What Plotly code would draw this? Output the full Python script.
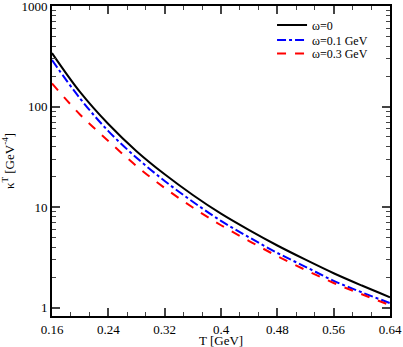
import plotly.graph_objects as go

# temperature grid (GeV)
T = [0.16, 0.20, 0.24, 0.28, 0.32, 0.36, 0.40, 0.44, 0.48, 0.52, 0.56, 0.60, 0.64]

# kappa^T values (GeV^-4)
kappa_w0 = [340, 139, 67, 36, 21.2, 13.2, 8.6, 5.9, 4.15, 3.0, 2.2, 1.66, 1.27]
kappa_w01 = [290, 120, 57, 31, 18.2, 11.3, 7.3, 5.0, 3.5, 2.55, 1.85, 1.42, 1.11]
kappa_w03 = [170, 83, 45.5, 25.6, 15.5, 9.9, 6.6, 4.6, 3.25, 2.37, 1.76, 1.36, 1.06]

x_ticks = [0.16, 0.24, 0.32, 0.4, 0.48, 0.56, 0.64]
x_ticktext = ["0.16", "0.24", "0.32", "0.4", "0.48", "0.56", "0.64"]
y_ticks = [1, 10, 100, 1000]

font = "Liberation Serif, Times New Roman, serif"

fig = go.Figure()
fig.add_trace(go.Scatter(x=T, y=kappa_w0, mode="lines", name="ω=0", legend="legend",
                         line=dict(color="black", width=2, shape="spline")))
fig.add_trace(go.Scatter(x=T, y=kappa_w01, mode="lines", name="ω=0.1 GeV", legend="legend2",
                         line=dict(color="#0000ff", width=2, dash="dashdot", shape="spline")))
fig.add_trace(go.Scatter(x=T, y=kappa_w03, mode="lines", name="ω=0.3 GeV", legend="legend3",
                         line=dict(color="#ff0000", width=2, dash="dash", shape="spline")))

# minor ticks: two between majors on x, 2..9 per decade on y
x_minor = [0.16 + i * 0.08 / 3 for i in range(19)]
y_minor = [m * 10 ** d for d in range(0, 3) for m in range(2, 10)]

# one legend box per entry so the rows sit as tight as in the original
legend_style = dict(x=0.651, xanchor="left", yanchor="middle",
                    bgcolor="rgba(0,0,0,0)", font=dict(size=12))

fig.update_layout(
    width=403,
    height=347,
    margin=dict(l=52, r=13, t=6, b=31, autoexpand=False),
    plot_bgcolor="white",
    paper_bgcolor="white",
    font=dict(family=font, size=13, color="black"),
    showlegend=True,
    legend=dict(y=0.939, **legend_style),
    legend2=dict(y=0.890, **legend_style),
    legend3=dict(y=0.847, **legend_style),
)

fig.update_xaxes(
    range=[0.16, 0.64],
    tickvals=x_ticks,
    ticktext=x_ticktext,
    ticks="inside",
    ticklen=8,
    tickwidth=1.5,
    showline=True,
    linecolor="black",
    linewidth=2,
    mirror="allticks",
    showgrid=False,
    zeroline=False,
    automargin=False,
    ticklabeloverflow="allow",
    minor=dict(tickvals=x_minor, ticks="inside", ticklen=4, tickwidth=1, showgrid=False),
)

fig.update_yaxes(
    type="log",
    range=[-0.083, 3],
    tickvals=y_ticks,
    ticktext=["1", "10", "100", "1000"],
    ticks="inside",
    ticklen=8,
    tickwidth=1.5,
    showline=True,
    linecolor="black",
    linewidth=2,
    mirror="allticks",
    showgrid=False,
    zeroline=False,
    automargin=False,
    ticklabeloverflow="allow",
    minor=dict(tickvals=y_minor, ticks="inside", ticklen=4, tickwidth=1, showgrid=False),
    title=dict(text="κ<sup>T</sup> [GeV<sup>-4</sup>]", standoff=4, font=dict(size=13)),
)

# x axis title as a paper annotation so it sits just below the tick labels
fig.add_annotation(x=0.5, y=-0.079, xref="paper", yref="paper", text="T [GeV]",
                   showarrow=False, xanchor="center", yanchor="middle", font=dict(size=13))

fig.write_html("out.html", config={"displayModeBar": False},
               post_script="document.body.style.margin='0';")
